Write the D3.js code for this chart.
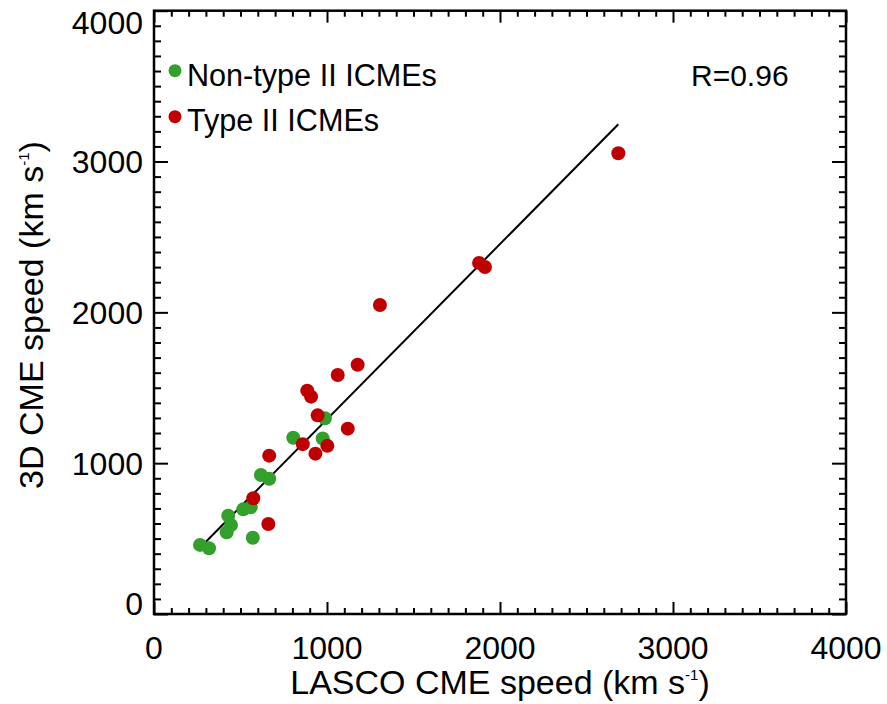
<!DOCTYPE html>
<html><head><meta charset="utf-8">
<script src="https://cdn.jsdelivr.net/npm/d3@7"></script>
<style>body{margin:0;background:#fff}</style>
</head><body><svg id="chart" width="887" height="704"></svg>
<script>
// ---- data ----
const nonTypeX = [266, 318, 420, 445, 429, 571, 516, 559, 618, 666, 805, 975, 988];
const nonTypeY = [458, 436, 542, 590, 652, 506, 694, 708, 922, 897, 1169, 1164, 1298];
const typeX = [574, 661, 666, 860, 933, 1002, 946, 1120, 886, 908, 1062, 1177, 1306, 1879, 1913, 2684];
const typeY = [767, 597, 1050, 1126, 1063, 1115, 1317, 1229, 1481, 1441, 1585, 1653, 2049, 2328, 2301, 3055];
const fitX = [300, 2684];
const fitY = [479, 3247];
const xTicks = [0, 1000, 2000, 3000, 4000];
const yTicks = [0, 1000, 2000, 3000, 4000];
const legendLabels = ["Non-type II ICMEs", "Type II ICMEs"];
const rLabel = "R=0.96";
const xTitle = "LASCO CME speed (km s";
const yTitle = "3D CME speed (km s";

// ---- layout ----
const FONT = "'Liberation Sans', Arial, Helvetica, sans-serif";
const GREEN = "#33a02c", RED = "#c00000";
const L = 154, R = 846, T = 10.7, B = 614;
const svg = d3.select("#chart");
const x = d3.scaleLinear().domain([0, 4000]).range([L, R]);
const y = d3.scaleLinear().domain([0, 4000]).range([B, T]);
const minorX = d3.range(0, 4001, 100).filter(v => v % 1000 !== 0);
const minorY = minorX;

function axisG(gen, tr) {
  const g = svg.append("g").attr("transform", tr).call(gen);
  g.select(".domain").remove();
  g.selectAll("line").attr("stroke", "#000").attr("stroke-width", 2);
  g.selectAll("text").remove();
  return g;
}
// bottom/top
axisG(d3.axisBottom(x).tickValues(minorX).tickSize(-6).tickFormat(""), `translate(0,${B})`);
axisG(d3.axisBottom(x).tickValues(xTicks).tickSize(-12).tickFormat(""), `translate(0,${B})`);
axisG(d3.axisTop(x).tickValues(minorX).tickSize(-6).tickFormat(""), `translate(0,${T})`);
axisG(d3.axisTop(x).tickValues(xTicks).tickSize(-12).tickFormat(""), `translate(0,${T})`);
// left/right
axisG(d3.axisLeft(y).tickValues(minorY).tickSize(-7).tickFormat(""), `translate(${L},0)`);
axisG(d3.axisLeft(y).tickValues(yTicks).tickSize(-14).tickFormat(""), `translate(${L},0)`);
axisG(d3.axisRight(y).tickValues(minorY).tickSize(-7).tickFormat(""), `translate(${R},0)`);
axisG(d3.axisRight(y).tickValues(yTicks).tickSize(-14).tickFormat(""), `translate(${R},0)`);

svg.append("rect").attr("x", L).attr("y", T).attr("width", R - L).attr("height", B - T)
  .attr("fill", "none").attr("stroke", "#000").attr("stroke-width", 2.5);

// tick labels
svg.append("g").selectAll("text").data(xTicks).join("text")
  .attr("x", d => x(d)).attr("y", 659).attr("text-anchor", "middle")
  .attr("font-family", FONT).attr("font-size", 32).text(d => d);
svg.append("g").selectAll("text").data(yTicks).join("text")
  .attr("x", 143)
  .attr("y", d => Math.min(Math.max(y(d) + 11.5, T + 23), B + 1))
  .attr("text-anchor", "end")
  .attr("font-family", FONT).attr("font-size", 32).text(d => d);

// titles
const xt = svg.append("text").attr("x", (L + R) / 2).attr("y", 694).attr("text-anchor", "middle")
  .attr("font-family", FONT).attr("font-size", 34);
xt.append("tspan").text(xTitle);
xt.append("tspan").attr("font-size", 15).attr("dy", -14).text("-1");
xt.append("tspan").attr("dy", 14).text(")");

const yt = svg.append("text").attr("transform", `translate(43,315) rotate(-90)`).attr("text-anchor", "middle")
  .attr("font-family", FONT).attr("font-size", 34);
yt.append("tspan").text(yTitle);
yt.append("tspan").attr("font-size", 15).attr("dy", -14).text("-1");
yt.append("tspan").attr("dy", 14).text(")");

// fit line
svg.append("line")
  .attr("x1", x(fitX[0])).attr("y1", y(fitY[0]))
  .attr("x2", x(fitX[1])).attr("y2", y(fitY[1]))
  .attr("stroke", "#000").attr("stroke-width", 2);

// points
const greenPts = nonTypeX.map((v, i) => [v, nonTypeY[i]]);
const redPts = typeX.map((v, i) => [v, typeY[i]]);
svg.append("g").selectAll("circle").data(greenPts).join("circle")
  .attr("cx", d => x(d[0])).attr("cy", d => y(d[1])).attr("r", 7).attr("fill", GREEN);
svg.append("g").selectAll("circle").data(redPts).join("circle")
  .attr("cx", d => x(d[0])).attr("cy", d => y(d[1])).attr("r", 7).attr("fill", RED);

// legend
const leg = [[GREEN, 70.7, 86], [RED, 116.7, 131]];
leg.forEach((l, i) => {
  svg.append("circle").attr("cx", 175).attr("cy", l[1]).attr("r", 6.5).attr("fill", l[0]);
  svg.append("text").attr("x", 187).attr("y", l[2]).attr("font-family", FONT).attr("font-size", 30.6)
    .text(legendLabels[i]);
});
svg.append("text").attr("x", 691).attr("y", 86).attr("font-family", FONT).attr("font-size", 30).text(rLabel);
</script>
</body></html>
